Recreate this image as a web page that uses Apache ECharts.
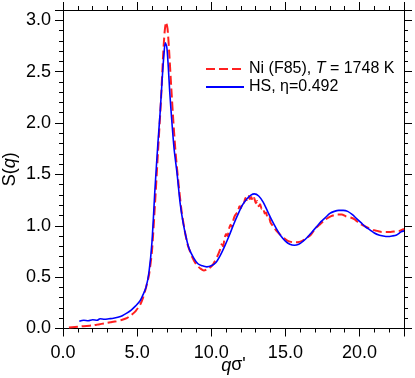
<!DOCTYPE html>
<html>
<head>
<meta charset="utf-8">
<script src="https://cdn.jsdelivr.net/npm/echarts@6/dist/echarts.min.js"></script>
<style>
  html, body { margin: 0; padding: 0; background: #fff; }
  #chart { width: 415px; height: 378px; }
</style>
</head>
<body>
<div id="chart"></div>
<script>
// Ni (F85), T = 1748 K  -- red dashed
const qNi = [0.4, 0.8, 1.2, 1.6, 2.0, 2.4, 2.8, 3.2, 3.6, 4.0, 4.3, 4.6, 4.9, 5.2, 5.4, 5.6, 5.8, 6.0, 6.2, 6.4,
  6.6, 6.75, 6.85, 6.95, 7.05, 7.15, 7.3, 7.45, 7.6, 7.8, 8.0, 8.2, 8.4, 8.7, 9.0, 9.3, 9.5, 9.8, 10.1, 10.4,
  10.6, 10.7, 10.8, 10.9, 11.0, 11.1, 11.2, 11.3, 11.4, 11.5, 11.6, 11.8, 11.9, 12.0, 12.1, 12.2, 12.3, 12.4, 12.5, 12.6,
  12.7, 12.8, 12.9, 13.0, 13.1, 13.2, 13.3, 13.4, 13.5, 13.6, 13.7, 13.8, 13.9, 14.0, 14.2, 14.4, 14.6, 14.9, 15.2, 15.5,
  15.8, 16.1, 16.4, 16.7, 17.0, 17.3, 17.6, 17.9, 18.2, 18.5, 18.8, 19.1, 19.4, 19.7, 20.0, 20.3, 20.6, 20.9, 21.2, 21.5,
  21.8, 22.1, 22.4, 22.7, 23.0];
const sNi = [0.01, 0.015, 0.02, 0.025, 0.03, 0.04, 0.05, 0.06, 0.07, 0.085, 0.10, 0.13, 0.17, 0.23, 0.30, 0.40, 0.52, 0.75, 1.20, 1.70,
  2.20, 2.65, 2.88, 2.98, 2.92, 2.72, 2.35, 2.00, 1.70, 1.40, 1.14, 0.96, 0.82, 0.70, 0.62, 0.58, 0.565, 0.58, 0.62, 0.70,
  0.77, 0.82, 0.80, 0.88, 0.92, 0.90, 0.97, 1.01, 0.99, 1.06, 1.10, 1.14, 1.19, 1.17, 1.23, 1.22, 1.27, 1.25, 1.29, 1.26,
  1.28, 1.24, 1.27, 1.22, 1.24, 1.19, 1.21, 1.16, 1.17, 1.12, 1.13, 1.07, 1.08, 1.03, 0.99, 0.95, 0.92, 0.88, 0.85, 0.84,
  0.84, 0.85, 0.88, 0.91, 0.97, 1.01, 1.05, 1.08, 1.10, 1.11, 1.11, 1.09, 1.08, 1.06, 1.02, 1.00, 0.98, 0.96, 0.95, 0.94,
  0.94, 0.94, 0.945, 0.95, 0.97];

// HS, eta = 0.492  -- blue solid
const qHS = [1.1, 1.4, 1.7, 2.0, 2.3, 2.5, 2.8, 3.1, 3.4, 3.7, 4.0, 4.3, 4.6, 4.9, 5.2, 5.4, 5.6, 5.8, 6.0, 6.2,
  6.4, 6.55, 6.7, 6.8, 6.9, 7.0, 7.1, 7.2, 7.35, 7.5, 7.7, 7.9, 8.1, 8.3, 8.5, 8.8, 9.1, 9.4, 9.7, 10.0,
  10.3, 10.6, 10.9, 11.2, 11.5, 11.8, 12.1, 12.4, 12.7, 12.9, 13.2, 13.5, 13.8, 14.1, 14.4, 14.7, 15.0, 15.3, 15.6, 15.9,
  16.2, 16.5, 16.8, 17.1, 17.4, 17.7, 18.0, 18.3, 18.6, 18.9, 19.2, 19.5, 19.8, 20.1, 20.4, 20.7, 21.0, 21.3, 21.6, 21.9,
  22.2, 22.5, 22.8, 23.0];
const sHS = [0.07, 0.08, 0.075, 0.085, 0.08, 0.095, 0.09, 0.095, 0.10, 0.11, 0.125, 0.15, 0.18, 0.22, 0.27, 0.33, 0.40, 0.55, 0.84, 1.35,
  1.80, 2.10, 2.45, 2.65, 2.78, 2.74, 2.55, 2.30, 2.00, 1.74, 1.50, 1.22, 1.03, 0.89, 0.78, 0.69, 0.63, 0.61, 0.60, 0.61,
  0.64, 0.71, 0.80, 0.90, 1.01, 1.11, 1.20, 1.26, 1.30, 1.31, 1.29, 1.23, 1.14, 1.05, 0.97, 0.90, 0.85, 0.82, 0.81, 0.82,
  0.85, 0.89, 0.94, 0.99, 1.04, 1.08, 1.12, 1.14, 1.15, 1.15, 1.14, 1.11, 1.07, 1.03, 0.99, 0.96, 0.93, 0.91, 0.90, 0.895,
  0.90, 0.91, 0.94, 0.95];

const xTicks = [0, 5, 10, 15, 20];
const yTicks = [0, 0.5, 1.0, 1.5, 2.0, 2.5, 3.0];

const FONT = '"Liberation Sans", Arial, sans-serif';

function zip(xs, ys) {
  return xs.map((x, i) => [x, ys[i]]);
}

function makeAxis(pos, min, max, step, ticks, showLabels, extra) {
  return Object.assign({
    type: 'value',
    position: pos,
    min: min,
    max: max,
    interval: step,
    axisLine: { show: true, onZero: false, lineStyle: { color: '#000', width: 1 } },
    axisTick: { show: true, inside: false, length: 8, lineStyle: { color: '#000', width: 1 } },
    minorTick: { show: true, splitNumber: 5, length: 4, lineStyle: { color: '#000', width: 1 } },
    splitLine: { show: false },
    minorSplitLine: { show: false },
    axisLabel: {
      show: showLabels,
      showMaxLabel: false,
      fontFamily: FONT,
      fontSize: 18,
      color: '#000',
      margin: pos === 'bottom' ? 16 : 12,
      formatter: v => ticks.some(t => Math.abs(t - v) < 1e-6) ? v.toFixed(1) : ''
    }
  }, extra || {});
}

const chart = echarts.init(document.getElementById('chart'));
chart.setOption({
  animation: false,
  backgroundColor: '#fff',
  grid: { left: 63, right: 11, top: 10, bottom: 49.5, containLabel: false, outerBoundsMode: 'none' },
  legend: {
    orient: 'vertical',
    left: 200,
    top: 56,
    itemWidth: 38,
    itemHeight: 14,
    itemGap: 2,
    itemStyle: { color: 'rgba(0,0,0,0)', borderColor: 'rgba(0,0,0,0)', borderWidth: 0 },
    textStyle: {
      fontFamily: FONT,
      fontSize: 16,
      color: '#000',
      rich: { i: { fontFamily: FONT, fontSize: 16, fontStyle: 'italic', color: '#000' } }
    },
    formatter: name => name === 'Ni' ? 'Ni (F85), {i|T} = 1748 K' : 'HS, η=0.492',
    data: ['Ni', 'HS']
  },
  xAxis: [
    makeAxis('bottom', 0, 23, 5, xTicks, true, {
      name: '{i|q}σ\'',
      nameLocation: 'middle',
      nameGap: 28,
      nameMoveOverlap: false,
      nameTextStyle: {
        fontFamily: FONT, fontSize: 18, color: '#000',
        rich: { i: { fontFamily: FONT, fontSize: 18, fontStyle: 'italic', color: '#000' } }
      }
    }),
    makeAxis('top', 0, 23, 5, xTicks, false)
  ],
  yAxis: [
    makeAxis('left', 0, 3.1, 0.5, yTicks, true, {
      name: 'S({i|q})',
      nameLocation: 'middle',
      nameGap: 44,
      nameMoveOverlap: false,
      nameTextStyle: {
        fontFamily: FONT, fontSize: 18, color: '#000',
        rich: { i: { fontFamily: FONT, fontSize: 18, fontStyle: 'italic', color: '#000' } }
      }
    }),
    makeAxis('right', 0, 3.1, 0.5, yTicks, false)
  ],
  series: [
    {
      name: 'Ni',
      type: 'line',
      xAxisIndex: 0,
      yAxisIndex: 0,
      showSymbol: false,
      symbol: 'none',
      smooth: 0.2,
      lineStyle: { color: '#ff2020', width: 2, type: [9, 4] },
      itemStyle: { color: '#ff2020' },
      data: zip(qNi, sNi)
    },
    {
      name: 'HS',
      type: 'line',
      xAxisIndex: 0,
      yAxisIndex: 0,
      showSymbol: false,
      symbol: 'none',
      smooth: 0.3,
      lineStyle: { color: '#0000ff', width: 1.6 },
      itemStyle: { color: '#0000ff' },
      data: zip(qHS, sHS)
    }
  ]
});
</script>
</body>
</html>
